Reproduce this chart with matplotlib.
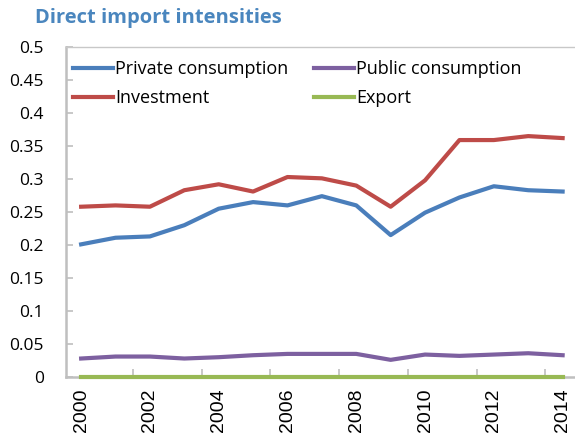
import matplotlib.pyplot as plt
import numpy as np

years = np.arange(2000, 2015)
private_consumption = [0.201, 0.211, 0.213, 0.230, 0.255, 0.265, 0.260, 0.274, 0.260,
                       0.215, 0.249, 0.272, 0.289, 0.283, 0.281]
investment = [0.258, 0.260, 0.258, 0.283, 0.292, 0.281, 0.303, 0.301, 0.290,
              0.258, 0.298, 0.359, 0.359, 0.365, 0.362]
public_consumption = [0.028, 0.031, 0.031, 0.028, 0.030, 0.033, 0.035, 0.035, 0.035,
                      0.026, 0.034, 0.032, 0.034, 0.036, 0.033]
export = [0.0] * 15

y_ticks = [0, 0.05, 0.1, 0.15, 0.2, 0.25, 0.3, 0.35, 0.4, 0.45, 0.5]
y_labels = ["0", "0.05", "0.1", "0.15", "0.2", "0.25", "0.3", "0.35", "0.4", "0.45", "0.5"]
x_labels = [str(y) for y in range(2000, 2015, 2)]


def main():
    fig = plt.figure(figsize=(5.75, 4.37), dpi=100)
    ax = fig.add_axes([66 / 575, 60 / 437, 509 / 575, 330 / 437])

    lw = 3.0
    ax.plot(years, private_consumption, color="#4A7EBB", lw=lw, label="Private consumption")
    ax.plot(years, investment, color="#BE4B48", lw=lw, label="Investment")
    ax.plot(years, public_consumption, color="#7D60A0", lw=lw, label="Public consumption")
    ax.plot(years, export, color="#98B954", lw=lw, label="Export", clip_on=False, zorder=3)

    ax.set_xlim(1999.56, 2014.36)
    ax.set_ylim(0, 0.5)

    # category boundaries every 2 years, labels on the years themselves
    ax.set_xticks(np.arange(2001.5, 2014, 2))
    ax.set_xticklabels([])
    ax.set_xticks(np.arange(2000, 2015, 2), minor=True)
    ax.set_xticklabels(x_labels, minor=True, rotation=90, family="Liberation Sans",
                       fontsize=14)
    ax.tick_params(axis="x", which="major", direction="in", length=6, width=1.2,
                   color="#BFBFBF")
    ax.tick_params(axis="x", which="minor", length=0, pad=8)

    ax.set_yticks(y_ticks)
    ax.set_yticklabels(y_labels, family="Open Sans", fontsize=12.5)
    ax.tick_params(axis="y", direction="in", length=5, width=1.2, color="#BFBFBF", pad=16)

    for side in ["left", "bottom"]:
        ax.spines[side].set_color("#BFBFBF")
        ax.spines[side].set_linewidth(1.8)
    ax.spines["top"].set_color("#C8C8C8")
    ax.spines["top"].set_linewidth(1.0)
    ax.spines["right"].set_visible(False)

    fig.text(35 / 575, 1 - 18 / 437, "Direct import intensities", family="Open Sans",
             fontweight="bold", fontsize=14.5, color="#4A86BE", va="center", ha="left")

    ax.legend(loc="upper left", bbox_to_anchor=(64 / 575, 1 - 51 / 437),
              bbox_transform=fig.transFigure, ncol=2, frameon=False,
              prop={"family": "Open Sans", "size": 13}, handlelength=2.2,
              handletextpad=0.15, columnspacing=1.4, labelspacing=0.6, borderpad=0)

    fig.savefig("out.png", dpi=100)


if __name__ == "__main__":
    main()
